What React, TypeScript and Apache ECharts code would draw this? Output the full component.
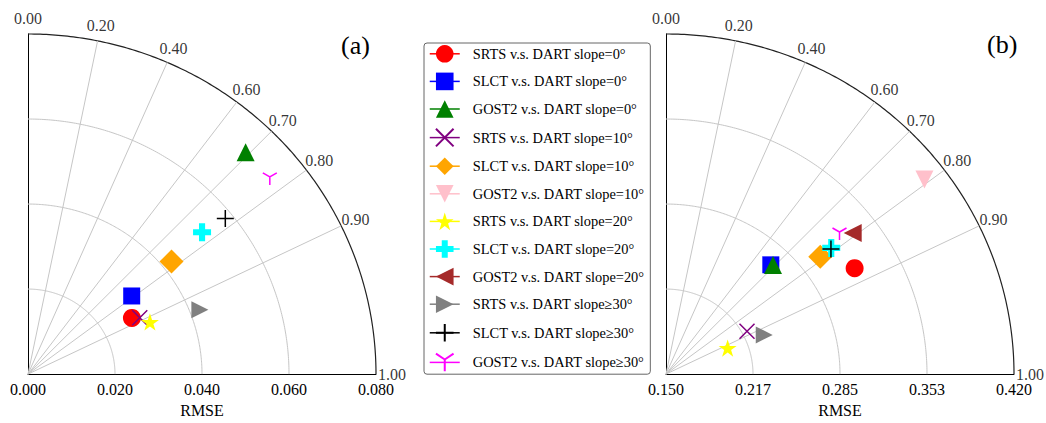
import React, { useEffect, useRef } from "react";
import * as echarts from "echarts";

// ---------- data ----------
const seriesNames = [
  "SRTS v.s. DART slope=0°",
  "SLCT v.s. DART slope=0°",
  "GOST2 v.s. DART slope=0°",
  "SRTS v.s. DART slope=10°",
  "SLCT v.s. DART slope=10°",
  "GOST2 v.s. DART slope=10°",
  "SRTS v.s. DART slope=20°",
  "SLCT v.s. DART slope=20°",
  "GOST2 v.s. DART slope=20°",
  "SRTS v.s. DART slope≥30°",
  "SLCT v.s. DART slope≥30°",
  "GOST2 v.s. DART slope≥30°",
];
// panel (a)
const rmseA: (number | null)[] = [0.0273, 0.0301, 0.0723, 0.0289, 0.0423, null, 0.0306, 0.0521, null, 0.0423, 0.0583, 0.0721];
const corrA: (number | null)[] = [0.875, 0.792, 0.692, 0.889, 0.78, null, 0.916, 0.768, null, 0.934, 0.778, 0.771];
// panel (b)
const rmseB: (number | null)[] = [0.3188, 0.2689, 0.27, 0.2215, 0.3017, 0.4032, 0.2021, 0.3127, 0.3331, 0.2323, 0.312, 0.3246];
const corrB: (number | null)[] = [0.867, 0.684, 0.692, 0.879, 0.789, 0.792, 0.918, 0.788, 0.791, 0.926, 0.79, 0.771];

const corrTicks = [0, 0.2, 0.4, 0.6, 0.7, 0.8, 0.9, 1.0];
const corrTickLabels = ["0.00", "0.20", "0.40", "0.60", "0.70", "0.80", "0.90", "1.00"];
const corrGridLines = [0.2, 0.4, 0.6, 0.7, 0.8, 0.9];
const rmseTickLabelsA = ["0.000", "0.020", "0.040", "0.060", "0.080"];
const rmseTickLabelsB = ["0.150", "0.217", "0.285", "0.353", "0.420"];
const rmseRangeA = [0, 0.08];
const rmseRangeB = [0.15, 0.42];
const arcFractions = [0.25, 0.5, 0.75, 1];

// ---------- styles ----------
const FONT = "Liberation Serif";
const SYM_X = "path://M0,0L10,10M10,0L0,10";
const SYM_PLUS = "path://M5,0L5,10M0,5L10,5";
const SYM_TRI_DOWN = "path://M5,5L5,10M5,5L0.67,2.5M5,5L9.33,2.5";
const SYM_PLUS_FILLED = "path://M3.3,0H6.7V3.3H10V6.7H6.7V10H3.3V6.7H0V3.3H3.3Z";
const SYM_STAR =
  "path://M50,0L61.23,34.55L97.55,34.55L68.17,55.9L79.39,90.45L50,69.1L20.61,90.45L31.83,55.9L2.45,34.55L38.77,34.55Z";
const symbols = ["circle", "rect", "triangle", SYM_X, "diamond", "triangle", SYM_STAR, SYM_PLUS_FILLED, "triangle", "triangle", SYM_PLUS, SYM_TRI_DOWN];
const rotations = [0, 0, 0, 0, 0, 180, 0, 0, 90, -90, 0, 0];
const sizes = [18, 17, 18, 15, 24, 18, 18, 18, 18, 17, 17, 14];
const colors = ["#ff0000", "#0000ff", "#008000", "#800080", "#ffa500", "#ffc0cb", "#ffff00", "#00ffff", "#a52a2a", "#808080", "#000000", "#ff00ff"];
const lineOnly = [false, false, false, true, false, false, false, false, false, false, true, true];

const GRID_COLOR = "#c6c6c6";

function buildPanel(p: number, rmse: (number | null)[], corr: (number | null)[], range: number[], tickLabels: string[]) {
  const min = range[0];
  const span = range[1] - range[0];
  const step = span / 4;
  const xAxis = {
    gridIndex: p,
    type: "value",
    min: 0,
    max: span,
    interval: step,
    axisLine: { show: true, onZero: false, lineStyle: { color: "#000", width: 1 } },
    axisTick: { show: false },
    splitLine: { show: false },
    axisLabel: {
      margin: 7,
      fontSize: 16,
      fontFamily: FONT,
      color: "#000",
      formatter: (v: number) => tickLabels[Math.round(v / step)] ?? "",
    },
    name: "RMSE",
    nameLocation: "middle",
    nameGap: 25,
    nameTextStyle: { fontSize: 16, fontFamily: FONT, color: "#000" },
  };
  const yAxis = {
    gridIndex: p,
    type: "value",
    min: 0,
    max: span,
    interval: step,
    axisLine: { show: true, onZero: false, lineStyle: { color: "#000", width: 1 } },
    axisTick: { show: false },
    splitLine: { show: false },
    axisLabel: { show: false },
  };
  const series: any[] = [];
  // arcs
  arcFractions.forEach((f) => {
    const pts: number[][] = [];
    for (let a = 0; a <= 90.001; a += 0.5) {
      const t = (a * Math.PI) / 180;
      pts.push([span * f * Math.cos(t), span * f * Math.sin(t)]);
    }
    series.push({
      type: "line",
      xAxisIndex: p,
      yAxisIndex: p,
      data: pts,
      symbol: "none",
      silent: true,
      clip: false,
      z: 1,
      lineStyle: { color: f === 1 ? "#222" : GRID_COLOR, width: f === 1 ? 1.2 : 1 },
    });
  });
  // radial correlation lines
  corrGridLines.forEach((c) => {
    series.push({
      type: "line",
      xAxisIndex: p,
      yAxisIndex: p,
      data: [
        [0, 0],
        [span * c, span * Math.sqrt(1 - c * c)],
      ],
      symbol: "none",
      silent: true,
      clip: false,
      z: 1,
      lineStyle: { color: GRID_COLOR, width: 1 },
    });
  });
  // correlation tick labels
  const lr = span * 1.046;
  series.push({
    type: "scatter",
    xAxisIndex: p,
    yAxisIndex: p,
    silent: true,
    clip: false,
    symbolSize: 1,
    itemStyle: { color: "transparent" },
    data: corrTicks.map((c, i) => ({ value: [lr * c, lr * Math.sqrt(1 - c * c)], name: corrTickLabels[i] })),
    label: {
      show: true,
      position: "inside",
      formatter: (d: any) => d.name,
      fontSize: 16,
      fontFamily: FONT,
      color: "#000",
    },
    z: 2,
  });
  // data markers
  seriesNames.forEach((name, i) => {
    const r = rmse[i];
    const c = corr[i];
    const data: number[][] = [];
    if (r != null && c != null) {
      const d = r - min;
      data.push([d * c, d * Math.sqrt(1 - c * c)]);
    }
    series.push({
      type: "line",
      name,
      xAxisIndex: p,
      yAxisIndex: p,
      data,
      symbol: symbols[i],
      symbolSize: sizes[i],
      symbolRotate: rotations[i],
      symbolKeepAspect: true,
      showSymbol: true,
      clip: false,
      z: 3,
      lineStyle: { color: colors[i], width: 1.5 },
      itemStyle: lineOnly[i]
        ? { color: "transparent", borderColor: colors[i], borderWidth: 1.5 }
        : { color: colors[i], borderWidth: 0 },
    });
  });
  return { xAxis, yAxis, series };
}

export default function App() {
  const ref = useRef<HTMLDivElement>(null);
  useEffect(() => {
    if (!ref.current) return;
    const chart = echarts.init(ref.current, undefined, { renderer: "svg" });
    const a = buildPanel(0, rmseA, corrA, rmseRangeA, rmseTickLabelsA);
    const b = buildPanel(1, rmseB, corrB, rmseRangeB, rmseTickLabelsB);
    chart.setOption({
      animation: false,
      backgroundColor: "#fff",
      grid: [
        { left: 28, top: 34, width: 348, height: 348 },
        { left: 666, top: 34, width: 348, height: 348 },
      ],
      xAxis: [a.xAxis, b.xAxis],
      yAxis: [a.yAxis, b.yAxis],
      legend: {
        data: seriesNames,
        orient: "vertical",
        left: 424,
        top: 43,
        itemWidth: 30,
        itemHeight: 22,
        itemGap: 10,
        padding: [2, 6, 2, 5],
        borderColor: "#666",
        borderWidth: 1,
        borderRadius: 3,
        selectedMode: false,
        lineStyle: { width: 1.5 },
        textStyle: { fontSize: 14.4, fontFamily: FONT, color: "#000", padding: [0, 0, 0, 8] },
      },
      graphic: [
        { type: "text", left: 341, top: 32, style: { text: "(a)", fontSize: 26, fontFamily: FONT, fill: "#000" } },
        { type: "text", left: 987, top: 31, style: { text: "(b)", fontSize: 26, fontFamily: FONT, fill: "#000" } },
      ],
      series: [...a.series, ...b.series],
    });
    return () => chart.dispose();
  }, []);
  return <div ref={ref} style={{ position: "absolute", left: 0, top: 0, width: 1046, height: 423 }} />;
}
